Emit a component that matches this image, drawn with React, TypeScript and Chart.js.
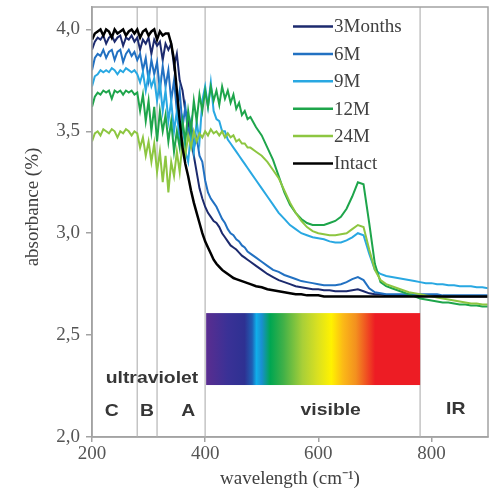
import React, { useEffect, useRef } from 'react';
import { Chart, registerables } from 'chart.js';

Chart.register(...registerables);

// wavelength axis (nm as printed) shared by all series
const WAVELENGTHS = [
  200, 205, 210, 215, 220, 225, 230, 235, 240, 245, 250, 255, 260, 265, 270, 275, 280, 285, 290, 295,
  300, 305, 310, 315, 320, 325, 330, 335, 340, 345, 350, 355, 360, 365, 370, 375, 380, 385, 390, 395,
  400, 405, 410, 415, 420, 425, 430, 435, 440, 445, 450, 455, 460, 465, 470, 475, 480,
  490, 500, 510, 520, 530, 540, 550, 560, 570, 580, 590, 600, 610, 620, 630, 640, 650, 660, 670, 680,
  690, 700, 710, 720, 730, 740, 750, 760, 770, 780, 790, 800, 810, 820, 830, 840, 850, 860, 870, 880,
  890, 900,
];

const MONTHS_3 = [
  3.9, 3.94, 3.96, 3.95, 3.97, 3.93, 3.96, 3.97, 3.94, 3.96, 3.97, 3.92, 3.96, 3.95, 3.97, 3.94, 3.96, 3.9, 3.95, 3.93,
  3.96, 3.88, 3.95, 3.92, 3.94, 3.85, 3.93,
  3.9, 3.93, 3.82, 3.88, 3.75, 3.7, 3.6, 3.55, 3.46, 3.38, 3.3, 3.22, 3.17, 3.13, 3.1, 3.08, 3.06, 3.05, 3.03,
  3.0, 2.98, 2.96, 2.94, 2.93, 2.92, 2.905, 2.89, 2.88, 2.87, 2.86,
  2.84, 2.82, 2.8, 2.785, 2.77, 2.76, 2.75, 2.74, 2.735, 2.73, 2.725, 2.725, 2.72, 2.72, 2.715, 2.715, 2.715, 2.72,
  2.725, 2.715, 2.705, 2.7, 2.7,
  2.695, 2.695, 2.695, 2.695, 2.695, 2.695, 2.695, 2.695, 2.695, 2.695, 2.69, 2.69, 2.69, 2.69, 2.69, 2.69, 2.69,
  2.69, 2.69,
];

const MONTHS_6 = [
  3.8, 3.86, 3.88, 3.87, 3.9, 3.86, 3.89, 3.9, 3.85, 3.89, 3.9, 3.84, 3.88, 3.9, 3.87, 3.89, 3.85, 3.88, 3.8, 3.86,
  3.75, 3.85, 3.78, 3.84, 3.7, 3.82, 3.72,
  3.8, 3.65, 3.75, 3.6, 3.7, 3.52, 3.62, 3.48, 3.55, 3.42, 3.47, 3.38, 3.35, 3.26, 3.2, 3.17, 3.15, 3.13, 3.1,
  3.07, 3.05, 3.02, 3.0, 2.99, 2.97, 2.96, 2.94, 2.93, 2.91, 2.9,
  2.88, 2.86, 2.84, 2.82, 2.81, 2.795, 2.785, 2.775, 2.765, 2.76, 2.755, 2.75, 2.745, 2.745, 2.745, 2.75, 2.76,
  2.775, 2.785, 2.77, 2.73, 2.71, 2.705,
  2.7, 2.7, 2.7, 2.7, 2.7, 2.7, 2.7, 2.7, 2.7, 2.7, 2.695, 2.695, 2.695, 2.695, 2.695, 2.695, 2.695, 2.695, 2.695,
];

const MONTHS_9 = [
  3.72, 3.77, 3.78, 3.8, 3.79, 3.8, 3.79, 3.81, 3.8, 3.78, 3.8, 3.79, 3.81, 3.8, 3.79, 3.8, 3.78, 3.74, 3.79, 3.7,
  3.78, 3.72, 3.76, 3.65, 3.74, 3.6, 3.7,
  3.55, 3.65, 3.5, 3.6, 3.45, 3.55, 3.4, 3.35, 3.5, 3.4, 3.55, 3.45, 3.65, 3.72, 3.62, 3.74, 3.6, 3.56, 3.55,
  3.5, 3.5, 3.46, 3.44, 3.42, 3.4, 3.38, 3.36, 3.34, 3.32, 3.3,
  3.26, 3.22, 3.18, 3.14, 3.1, 3.07, 3.04, 3.02, 3.0, 2.99, 2.98, 2.975, 2.97, 2.96, 2.955, 2.955, 2.965, 2.98,
  3.0, 2.99, 2.9, 2.82, 2.8, 2.79, 2.785, 2.78, 2.775, 2.77, 2.765, 2.76, 2.755, 2.755, 2.75, 2.75, 2.745, 2.745,
  2.74, 2.74, 2.74, 2.735, 2.735, 2.73,
];

const MONTHS_12 = [
  3.62, 3.67, 3.69, 3.68, 3.7, 3.69, 3.7, 3.66, 3.7, 3.69, 3.7, 3.68, 3.7, 3.69, 3.7, 3.68, 3.69, 3.6, 3.68, 3.55,
  3.65, 3.5, 3.62, 3.45, 3.6, 3.5, 3.58,
  3.45, 3.55, 3.4, 3.5, 3.42, 3.55, 3.45, 3.6, 3.5, 3.65, 3.55, 3.68, 3.6, 3.7, 3.62, 3.72, 3.65, 3.7, 3.63,
  3.72, 3.66, 3.7, 3.64, 3.68, 3.61, 3.64, 3.58, 3.6, 3.56, 3.57,
  3.52, 3.48, 3.42, 3.36, 3.28, 3.2, 3.14, 3.1, 3.07, 3.05, 3.04, 3.04, 3.04, 3.05, 3.06, 3.08, 3.12, 3.18,
  3.25, 3.24, 3.05, 2.85, 2.76, 2.74, 2.73, 2.72, 2.71, 2.7, 2.69, 2.68, 2.675, 2.67, 2.665, 2.66, 2.66, 2.655,
  2.65, 2.65, 2.645, 2.645, 2.64, 2.64,
];

const MONTHS_24 = [
  3.45, 3.49, 3.5, 3.48, 3.51, 3.5, 3.49, 3.51, 3.5, 3.47, 3.5, 3.49, 3.51, 3.5, 3.48, 3.5, 3.49, 3.42, 3.47, 3.38,
  3.45, 3.35, 3.44, 3.3, 3.4, 3.25, 3.38,
  3.2, 3.35, 3.28, 3.4, 3.3, 3.45, 3.38, 3.48, 3.42, 3.5, 3.45, 3.49, 3.47, 3.5, 3.48, 3.51, 3.49, 3.5, 3.48,
  3.5, 3.47, 3.49, 3.47, 3.48, 3.45, 3.46, 3.44, 3.44, 3.42, 3.42,
  3.4, 3.38, 3.35, 3.31, 3.27, 3.21, 3.15, 3.1, 3.06, 3.03, 3.01, 3.0, 2.995, 2.99, 2.99, 2.995, 3.0, 3.02,
  3.04, 3.03, 2.92, 2.82, 2.77, 2.75, 2.74, 2.73, 2.72, 2.71, 2.705, 2.7, 2.695, 2.69, 2.685, 2.68, 2.675, 2.67,
  2.665, 2.66, 2.655, 2.655, 2.65, 2.65,
];

const INTACT = [
  3.95, 3.98, 3.99, 4.0, 3.97, 4.0, 3.99, 3.96, 4.0, 3.98, 3.99, 4.0, 3.97, 3.99, 4.0, 3.98, 4.0, 3.96, 3.99, 4.0,
  3.97, 3.99, 4.0, 3.95, 3.99, 3.97, 3.98,
  3.98, 3.93, 3.85, 3.7, 3.55, 3.42, 3.34, 3.28, 3.21, 3.15, 3.1, 3.05, 3.0, 2.96, 2.93, 2.9, 2.87, 2.85, 2.835,
  2.82, 2.81, 2.8, 2.79, 2.78, 2.775, 2.77, 2.765, 2.76, 2.755, 2.75,
  2.74, 2.735, 2.725, 2.72, 2.715, 2.71, 2.705, 2.7, 2.7, 2.695, 2.695, 2.695, 2.69, 2.69, 2.69, 2.69, 2.69, 2.69,
  2.69, 2.69, 2.69, 2.69, 2.69, 2.69, 2.69, 2.69, 2.69, 2.69, 2.69, 2.69, 2.69, 2.69, 2.69, 2.69, 2.69, 2.69,
  2.69, 2.69, 2.69, 2.69, 2.69, 2.69,
];

const SERIES_NAMES = ['3Months', '6M', '9M', '12M', '24M', 'Intact'];
const SERIES_VALUES = [MONTHS_3, MONTHS_6, MONTHS_9, MONTHS_12, MONTHS_24, INTACT];
const SERIES_COLORS = ['#1c2a6e', '#2271c2', '#29a8e2', '#1ea54b', '#8dc641', '#000000'];

const X_TICKS = [200, 400, 600, 800];
const Y_TICKS = [2.0, 2.5, 3.0, 3.5, 4.0];
const BAND_EDGES = [280, 315, 400, 780];

const X_TITLE = 'wavelength (cm\u207B\u00B9)';
const Y_TITLE = 'absorbance (%)';

// region annotations (in data units)
const REGION_TEXT = ['ultraviolet', 'C', 'B', 'A', 'visible', 'IR'];
const REGION_X = [306, 235, 297, 370, 622, 843];
const REGION_Y = [2.29, 2.127, 2.127, 2.127, 2.132, 2.137];

// visible spectrum band (data units)
const SPECTRUM_RANGE = [400, 780];
const SPECTRUM_LEVELS = [2.255, 2.608];

const SERIF = "'Liberation Serif', 'Times New Roman', serif";
const SANS = "'Liberation Sans', Arial, sans-serif";

const decorPlugin = {
  id: 'decor',
  beforeDatasetsDraw(chart: any) {
    const { ctx, chartArea, scales } = chart;
    const xs = scales.x;
    const ys = scales.y;
    ctx.save();
    // vertical region lines
    ctx.strokeStyle = '#c4c4c4';
    ctx.lineWidth = 1.5;
    BAND_EDGES.forEach((w) => {
      const px = xs.getPixelForValue(w);
      ctx.beginPath();
      ctx.moveTo(px, chartArea.top);
      ctx.lineTo(px, chartArea.bottom);
      ctx.stroke();
    });
    // spectrum
    const x0 = xs.getPixelForValue(SPECTRUM_RANGE[0]) + 1;
    const x1 = xs.getPixelForValue(SPECTRUM_RANGE[1]);
    const yTop = ys.getPixelForValue(SPECTRUM_LEVELS[1]);
    const yBot = ys.getPixelForValue(SPECTRUM_LEVELS[0]);
    const g = ctx.createLinearGradient(x0, 0, x1, 0);
    g.addColorStop(0, '#5a2d90');
    g.addColorStop(0.1, '#3a3196');
    g.addColorStop(0.18, '#2e3192');
    g.addColorStop(0.215, '#1f5fb4');
    g.addColorStop(0.235, '#10aeea');
    g.addColorStop(0.26, '#1a8fd0');
    g.addColorStop(0.3, '#00a651');
    g.addColorStop(0.36, '#3fb048');
    g.addColorStop(0.45, '#a8cf38');
    g.addColorStop(0.52, '#d9e021');
    g.addColorStop(0.585, '#fff200');
    g.addColorStop(0.64, '#fbb917');
    g.addColorStop(0.7, '#f3901f');
    g.addColorStop(0.79, '#ed1c24');
    g.addColorStop(1, '#ed1c24');
    ctx.fillStyle = g;
    ctx.fillRect(x0, yTop, x1 - x0, yBot - yTop);
    ctx.restore();
  },
  afterDatasetsDraw(chart: any) {
    const { ctx, chartArea, scales } = chart;
    const xs = scales.x;
    const ys = scales.y;
    ctx.save();
    // frame
    ctx.strokeStyle = '#a3a3a3';
    ctx.lineWidth = 1.5;
    ctx.strokeRect(chartArea.left, chartArea.top, chartArea.right - chartArea.left, chartArea.bottom - chartArea.top);

    // region labels
    ctx.fillStyle = '#363636';
    ctx.font = `bold 17px ${SANS}`;
    ctx.textAlign = 'center';
    ctx.textBaseline = 'middle';
    REGION_TEXT.forEach((t, i) => {
      const px = xs.getPixelForValue(REGION_X[i]);
      const py = ys.getPixelForValue(REGION_Y[i]);
      ctx.save();
      ctx.translate(px, py);
      ctx.scale(1.14, 1);
      ctx.fillText(t, 0, 0);
      ctx.restore();
    });

    // legend
    const lx0 = chartArea.left + 201;
    const lx1 = chartArea.left + 241;
    const ly0 = chartArea.top + 19.5;
    const step = 27.4;
    ctx.font = `19px ${SERIF}`;
    ctx.textAlign = 'left';
    ctx.textBaseline = 'middle';
    SERIES_NAMES.forEach((name, i) => {
      const y = ly0 + i * step;
      ctx.strokeStyle = SERIES_COLORS[i];
      ctx.lineWidth = 2.5;
      ctx.beginPath();
      ctx.moveTo(lx0, y);
      ctx.lineTo(lx1, y);
      ctx.stroke();
      ctx.fillStyle = '#404040';
      ctx.fillText(name, lx1 + 1, y + 1);
    });

    // y axis title
    ctx.save();
    ctx.translate(chartArea.left - 59, chartArea.top + 200);
    ctx.rotate(-Math.PI / 2);
    ctx.font = `19px ${SERIF}`;
    ctx.fillStyle = '#404040';
    ctx.textAlign = 'center';
    ctx.textBaseline = 'middle';
    ctx.fillText(Y_TITLE, 0, 0);
    ctx.restore();
    ctx.restore();
  },
};

export default function App() {
  const ref = useRef<HTMLCanvasElement>(null);
  useEffect(() => {
    if (!ref.current) return;
    const datasets = SERIES_NAMES.map((name, i) => ({
      label: name,
      data: WAVELENGTHS.map((w, j) => ({ x: w, y: SERIES_VALUES[i][j] })),
      borderColor: SERIES_COLORS[i],
      backgroundColor: SERIES_COLORS[i],
      borderWidth: i === 5 ? 2.5 : 2,
      pointRadius: 0,
      tension: 0,
      order: 6 - i,
    }));
    const chart = new Chart(ref.current, {
      type: 'line',
      data: { datasets },
      options: {
        animation: false,
        responsive: false,
        maintainAspectRatio: false,
        layout: { padding: { top: 7, right: 12, left: 0, bottom: 0 } },
        plugins: { legend: { display: false }, tooltip: { enabled: false } },
        scales: {
          x: {
            type: 'linear',
            min: 200,
            max: 900,
            afterBuildTicks: (s: any) => {
              s.ticks = X_TICKS.map((v) => ({ value: v }));
            },
            afterFit: (s: any) => {
              s.height = 60;
              s.paddingLeft = 0;
              s.paddingRight = 0;
            },
            ticks: {
              font: { family: SERIF, size: 19 },
              color: '#555555',
              padding: 1,
              maxRotation: 0,
              callback: (v: any) => String(v),
            },
            grid: { drawOnChartArea: false, drawTicks: true, tickLength: 5, color: '#a3a3a3', lineWidth: 1.5 },
            border: { display: true, color: '#a3a3a3', width: 1.5 },
            title: {
              display: true,
              text: X_TITLE,
              font: { family: SERIF, size: 19 },
              color: '#404040',
              padding: { top: 0, bottom: 7 },
            },
          },
          y: {
            type: 'linear',
            min: 2.0,
            max: 4.11,
            afterBuildTicks: (s: any) => {
              s.ticks = Y_TICKS.map((v) => ({ value: v }));
            },
            afterFit: (s: any) => {
              s.width = 92;
              s.paddingTop = 0;
              s.paddingBottom = 0;
            },
            ticks: {
              font: { family: SERIF, size: 19 },
              color: '#555555',
              padding: 6,
              callback: (v: any) => Number(v).toFixed(1).replace('.', ','),
            },
            grid: { drawOnChartArea: false, drawTicks: true, tickLength: 6, color: '#a3a3a3', lineWidth: 1.5 },
            border: { display: true, color: '#a3a3a3', width: 1.5 },
            title: { display: false, text: Y_TITLE },
          },
        },
      },
      plugins: [decorPlugin],
    });
    return () => chart.destroy();
  }, []);
  return (
    <div style={{ position: 'absolute', left: 0, top: 0, width: 500, height: 497, background: '#ffffff' }}>
      <canvas ref={ref} width={500} height={497} style={{ display: 'block' }} />
    </div>
  );
}
